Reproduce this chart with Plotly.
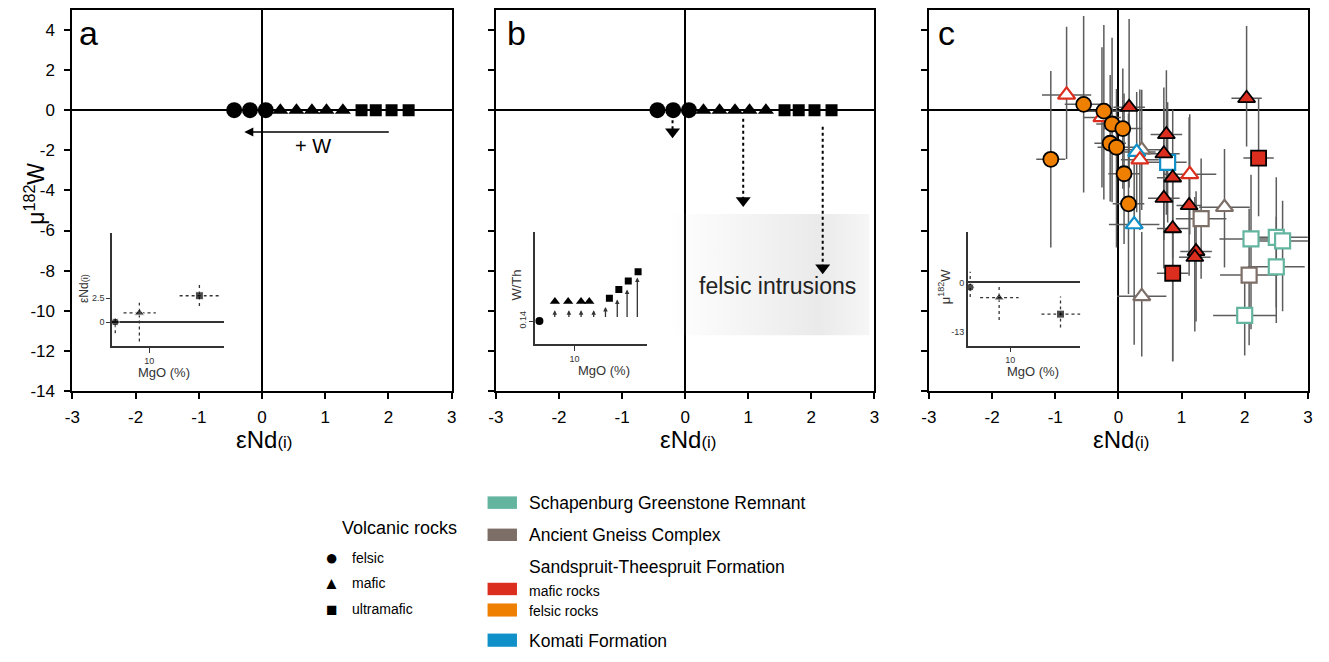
import plotly.graph_objects as go

W, H = 1329, 662


def fx(p):
    return p / W


def fy(p):
    return 1 - p / H


# ---------------- data ----------------
# panels a & b : model end-members on the mu182W = 0 line
model_felsic_end = [-0.44, -0.19, 0.06]
model_mafic_end = [0.29, 0.545, 0.79, 1.02, 1.28]
model_ultramafic_end = [1.575, 1.80, 2.05, 2.32]
model_mu = 0.0

# panel a arrow (+W)
w_arrow_from = 2.03
w_arrow_to = -0.28
w_arrow_mu = -1.09

# panel b dotted arrows
b_arrow_end = [-0.20, 0.92, 2.18]
b_arrow_start_mu = [-0.50, -0.43, -0.83]
b_arrow_head_mu = [-1.08, -4.50, -7.86]

# panel b felsic intrusion field
fi_end = [-0.27, 2.92]
fi_mu = [-5.18, -11.22]

# panel c : Sandspruit-Theespruit felsic rocks (filled circles)
stf_end = [-1.07, -0.55, -0.23, -0.10, 0.07, -0.13, -0.03, 0.09, 0.16]
stf_mu = [-2.45, 0.29, -0.05, -0.69, -0.92, -1.65, -1.85, -3.17, -4.67]
stf_xerr = [0.23, 0.30, 0.30, 0.25, 0.30, 0.25, 0.30, 0.25, 0.25]
stf_yerr_p = [4.4, 4.4, 4.3, 4.3, 3.0, 3.4, 2.9, 4.0, 4.5]
stf_yerr_m = [4.4, 4.4, 4.4, 3.9, 3.0, 2.9, 5.0, 3.5, 4.5]

# Sandspruit-Theespruit mafic rocks (filled triangles)
stm_end = [0.17, 0.76, 0.72, 0.86, 0.72, 1.12, 0.86, 1.23, 1.21, 2.03]
stm_mu = [0.15, -1.21, -2.17, -3.37, -4.39, -4.75, -5.90, -7.04, -7.33, 0.59]
stm_xerr = [0.25, 0.25, 0.25, 0.25, 0.25, 0.20, 0.25, 0.25, 0.25, 0.24]
stm_yerr_p = [4.4, 3.2, 3.3, 3.4, 4.5, 4.4, 3.0, 3.0, 3.0, 3.6]
stm_yerr_m = [4.0, 4.0, 4.3, 4.0, 3.5, 3.5, 6.6, 3.5, 3.7, 2.4]

# Sandspruit-Theespruit ultramafic (filled squares)
stu_end = [2.22, 0.86]
stu_mu = [-2.39, -8.13]
stu_xerr = [0.24, 0.25]
stu_yerr_p = [3.0, 2.6]
stu_yerr_m = [2.9, 4.4]

# Sandspruit-Theespruit mafic (open triangles)
sto_end = [-0.82, -0.26, 0.34, 1.13]
sto_mu = [0.76, -0.36, -2.47, -3.20]
sto_xerr = [0.39, 0.30, 0.30, 0.42]
sto_yerr_p = [3.4, 3.5, 3.5, 3.0]
sto_yerr_m = [3.2, 3.5, 3.5, 3.0]

# Komati Formation (open triangles / square)
kt_end = [0.29, 0.25]
kt_mu = [-2.09, -5.70]
kt_xerr = [0.30, 0.40]
kt_yerr_p = [3.0, 3.0]
kt_yerr_m = [3.0, 6.0]
ks_end = [0.78]
ks_mu = [-2.60]
ks_xerr = [0.30]
ks_yerr_p = [3.0]
ks_yerr_m = [3.0]

# Ancient Gneiss Complex (open triangles / squares)
agt_end = [0.37, 1.68, 0.37]
agt_mu = [-1.98, -4.84, -9.28]
agt_xerr = [0.30, 0.40, 0.39]
agt_yerr_p = [3.0, 2.9, 3.2]
agt_yerr_m = [3.0, 3.0, 3.0]
ags_end = [1.31, 2.07]
ags_mu = [-5.41, -8.22]
ags_xerr = [0.40, 0.46]
ags_yerr_p = [3.0, 3.3]
ags_yerr_m = [3.0, 3.5]

# Schapenburg Greenstone Remnant (open squares)
sgr_end = [2.10, 2.50, 2.60, 2.50, 2.00]
sgr_mu = [-6.42, -6.34, -6.52, -7.81, -10.23]
sgr_xerr = [0.50, 0.50, 0.45, 0.45, 0.50]
sgr_yerr_p = [3.2, 3.0, 2.0, 2.5, 1.6]
sgr_yerr_m = [4.5, 3.5, 3.5, 2.8, 2.0]

# inset a : eNd vs MgO
ia_mgo = [0.88, 7.35, 23.44]
ia_end = [0.0, 0.96, 2.75]
ia_xerr_m = [0.0, 4.25, 5.3]
ia_xerr_p = [0.0, 4.40, 5.2]
ia_yerr_p = [0.38, 1.07, 1.13]
ia_yerr_m = [1.17, 2.98, 1.07]
ia_symbols = ["circle", "triangle-up", "square"]

# inset b : W/Th vs MgO
ib_circle_mgo = [1.1]
ib_circle_wth = [0.14]
ib_tri_mgo = [5.04, 8.41, 11.69, 13.78]
ib_tri_wth = [0.18, 0.18, 0.18, 0.18]
ib_sq_mgo = [18.9, 21.3, 23.7, 26.2]
ib_sq_wth = [0.1866, 0.204, 0.2214, 0.24]
ib_arrow_mgo = [5.0, 8.6, 11.7, 14.9, 17.9, 20.9, 23.4, 26.0]
ib_arrow_base = [0.1454] * 8
ib_arrow_tip = [0.162, 0.162, 0.162, 0.162, 0.1686, 0.184, 0.204, 0.2286]

# inset c : mu182W vs MgO
ic_mgo = [0.56, 7.4, 21.9]
ic_mu = [-1.28, -4.0, -8.28]
ic_xerr_m = [0.0, 4.5, 4.5]
ic_xerr_p = [0.0, 4.6, 4.7]
ic_yerr_p = [4.03, 3.6, 4.6]
ic_yerr_m = [2.56, 5.8, 3.5]

# ---------------- styles ----------------
FONT = "Liberation Sans, Arial, sans-serif"
TEAL = "#63B5A0"
GREY = "#7D6E68"
RED = "#DC2E1E"
ORANGE = "#EE7F00"
BLUE = "#1090C8"
ERR = "#5c5c5c"

fig = go.Figure()

# ---------- panel a & b model points ----------
for xa, ya in (("x", "y"), ("x2", "y2")):
    if xa == "x2":
        # felsic intrusion field with gradient
        fig.add_trace(go.Scatter(
            x=[fi_end[0], fi_end[1], fi_end[1], fi_end[0], fi_end[0]],
            y=[fi_mu[0], fi_mu[0], fi_mu[1], fi_mu[1], fi_mu[0]],
            mode="lines", line=dict(width=0), fill="toself",
            fillgradient=dict(type="horizontal", colorscale=[
                [0, "rgba(205,205,205,0)"], [0.75, "rgba(205,205,205,0.42)"],
                [1, "rgba(205,205,205,0.18)"]]),
            xaxis=xa, yaxis=ya, showlegend=False, hoverinfo="skip"))
        # dotted arrows
        for xe, y0, y1 in zip(b_arrow_end, b_arrow_start_mu, b_arrow_head_mu):
            fig.add_trace(go.Scatter(
                x=[xe, xe], y=[y0, y1], mode="lines",
                line=dict(color="black", width=2, dash="dot"),
                xaxis=xa, yaxis=ya, showlegend=False, hoverinfo="skip"))
        fig.add_trace(go.Scatter(
            x=b_arrow_end, y=b_arrow_head_mu, mode="markers",
            marker=dict(symbol="triangle-down", size=13, color="black"),
            xaxis=xa, yaxis=ya, showlegend=False, hoverinfo="skip"))
    fig.add_trace(go.Scatter(
        x=model_felsic_end, y=[model_mu] * len(model_felsic_end), mode="markers",
        marker=dict(symbol="circle", size=16, color="black"),
        xaxis=xa, yaxis=ya, showlegend=False))
    fig.add_trace(go.Scatter(
        x=model_mafic_end, y=[model_mu] * len(model_mafic_end), mode="markers",
        marker=dict(symbol="triangle-up", size=14, color="black"),
        xaxis=xa, yaxis=ya, showlegend=False))
    fig.add_trace(go.Scatter(
        x=model_ultramafic_end, y=[model_mu] * len(model_ultramafic_end), mode="markers",
        marker=dict(symbol="square", size=12, color="black"),
        xaxis=xa, yaxis=ya, showlegend=False))

# ---------- panel c ----------
groups = [
    (sgr_end, sgr_mu, sgr_xerr, sgr_yerr_p, sgr_yerr_m, "square", "white", TEAL, 15, 2.2),
    (ags_end, ags_mu, ags_xerr, ags_yerr_p, ags_yerr_m, "square", "white", GREY, 15, 2.2),
    (agt_end, agt_mu, agt_xerr, agt_yerr_p, agt_yerr_m, "triangle-up", "white", GREY, 15, 2.2),
    (ks_end, ks_mu, ks_xerr, ks_yerr_p, ks_yerr_m, "square", "white", BLUE, 15, 2.2),
    (kt_end, kt_mu, kt_xerr, kt_yerr_p, kt_yerr_m, "triangle-up", "white", BLUE, 15, 2.2),
    (sto_end, sto_mu, sto_xerr, sto_yerr_p, sto_yerr_m, "triangle-up", "white", RED, 15, 2.2),
    (stf_end, stf_mu, stf_xerr, stf_yerr_p, stf_yerr_m, "circle", ORANGE, "black", 15, 1.8),
    (stu_end, stu_mu, stu_xerr, stu_yerr_p, stu_yerr_m, "square", RED, "black", 15, 1.8),
    (stm_end, stm_mu, stm_xerr, stm_yerr_p, stm_yerr_m, "triangle-up", RED, "black", 15, 1.8),
]
for gx, gy, ex, eyp, eym, *_ in groups:
    fig.add_trace(go.Scatter(
        x=gx, y=gy, mode="markers", marker=dict(size=2, opacity=0),
        error_x=dict(type="data", array=ex, color=ERR, thickness=1.5, width=0),
        error_y=dict(type="data", array=eyp, arrayminus=eym, symmetric=False,
                     color=ERR, thickness=1.5, width=0),
        xaxis="x3", yaxis="y3", showlegend=False, hoverinfo="skip"))
for gx, gy, ex, eyp, eym, sym, fill, edge, size, lw in groups:
    fig.add_trace(go.Scatter(
        x=gx, y=gy, mode="markers",
        marker=dict(symbol=sym, size=size, color=fill, line=dict(color=edge, width=lw)),
        xaxis="x3", yaxis="y3", showlegend=False))


# ---------- insets ----------
def dotted_cross(xs, ys, xm, xp, yp, ym):
    lx, ly = [], []
    for x0, y0, a, b, c, d in zip(xs, ys, xm, xp, yp, ym):
        if a or b:
            lx += [x0 - a, x0 + b, None]
            ly += [y0, y0, None]
        if c or d:
            lx += [x0, x0, None]
            ly += [y0 - d, y0 + c, None]
    return lx, ly


lx, ly = dotted_cross(ia_mgo, ia_end, ia_xerr_m, ia_xerr_p, ia_yerr_p, ia_yerr_m)
fig.add_trace(go.Scatter(x=lx, y=ly, mode="lines",
                         line=dict(color="#333", width=1.3, dash="dot"),
                         xaxis="x4", yaxis="y4", showlegend=False, hoverinfo="skip"))
fig.add_trace(go.Scatter(x=ia_mgo, y=ia_end, mode="markers",
                         marker=dict(symbol=ia_symbols, size=[8, 9, 8], color="black"),
                         xaxis="x4", yaxis="y4", showlegend=False))

fig.add_trace(go.Scatter(x=ib_circle_mgo, y=ib_circle_wth, mode="markers",
                         marker=dict(symbol="circle", size=8, color="black"),
                         xaxis="x5", yaxis="y5", showlegend=False, cliponaxis=False))
fig.add_trace(go.Scatter(x=ib_tri_mgo, y=ib_tri_wth, mode="markers",
                         marker=dict(symbol="triangle-up", size=9, color="black"),
                         xaxis="x5", yaxis="y5", showlegend=False))
fig.add_trace(go.Scatter(x=ib_sq_mgo, y=ib_sq_wth, mode="markers",
                         marker=dict(symbol="square", size=7, color="black"),
                         xaxis="x5", yaxis="y5", showlegend=False))

lx, ly = dotted_cross(ic_mgo, ic_mu, ic_xerr_m, ic_xerr_p, ic_yerr_p, ic_yerr_m)
fig.add_trace(go.Scatter(x=lx, y=ly, mode="lines",
                         line=dict(color="#333", width=1.3, dash="dot"),
                         xaxis="x6", yaxis="y6", showlegend=False, hoverinfo="skip"))
fig.add_trace(go.Scatter(x=ic_mgo, y=ic_mu, mode="markers",
                         marker=dict(symbol=ia_symbols, size=[8, 9, 8], color="black"),
                         xaxis="x6", yaxis="y6", showlegend=False, cliponaxis=False))

# ---------- axes ----------
X_DOM = [(65, 448), (492.7, 875), (930, 1312.7)]
yt = list(range(-14, 5, 2))
main_common = dict(showline=True, linewidth=2, linecolor="black", mirror=True,
                   ticks="outside", ticklen=6, tickwidth=1.6, tickcolor="black",
                   showgrid=False, zeroline=True, zerolinecolor="black", zerolinewidth=2,
                   tickfont=dict(size=17, color="black", family=FONT))
layout_axes = {}
for i, (l, r) in enumerate(X_DOM):
    sfx = "" if i == 0 else str(i + 1)
    layout_axes["xaxis" + sfx] = dict(
        main_common, domain=[fx(l), fx(r)], range=[-3, 3], anchor="y" + sfx,
        tickvals=list(range(-3, 4)), ticktext=[str(v) for v in range(-3, 4)],
        ticklabelstandoff=4)
    layout_axes["yaxis" + sfx] = dict(
        main_common, domain=[fy(397), fy(10)], range=[-14, 5], anchor="x" + sfx,
        tickvals=yt, ticktext=[str(v) for v in yt], showticklabels=(i == 0),
        ticklabelstandoff=6)

inset_x = dict(showline=True, linewidth=1.5, linecolor="#333", mirror=False,
               ticks="outside", ticklen=5, tickwidth=1.2, tickcolor="#333",
               showgrid=False, zeroline=False, tickvals=[10], ticktext=["10"],
               tickfont=dict(size=9, color="#333", family=FONT))
inset_y = dict(showline=True, linewidth=1.5, linecolor="#333", mirror=False,
               ticks="outside", ticklen=4, tickwidth=1.2, tickcolor="#333",
               showgrid=False, zerolinecolor="#333", zerolinewidth=1.5,
               tickfont=dict(size=9, color="#333", family=FONT))
layout_axes["xaxis4"] = dict(inset_x, domain=[fx(105), fx(218)], range=[0, 30], anchor="y4")
layout_axes["yaxis4"] = dict(inset_y, domain=[fy(351.7), fy(237)], range=[-2.54, 9.26],
                             anchor="x4", zeroline=True, tickvals=[0, 2.5], ticktext=["0", "2.5"])
layout_axes["xaxis5"] = dict(inset_x, domain=[fx(532.3), fx(645.7)], range=[0, 28.56], anchor="y5")
layout_axes["yaxis5"] = dict(inset_y, domain=[fy(349.3), fy(236)], range=[0.0934, 0.32],
                             anchor="x5", zeroline=False, tickvals=[0.14], ticktext=["0.14"],
                             tickangle=-90)
layout_axes["xaxis6"] = dict(inset_x, domain=[fx(969.3), fx(1083)], range=[0, 26.6], anchor="y6")
layout_axes["yaxis6"] = dict(inset_y, domain=[fy(351), fy(236)], range=[-16.5, 13.0],
                             anchor="x6", zeroline=True, ticks="", tickvals=[0, -13],
                             ticktext=["0", "-13"])

# ---------- annotations ----------
ann = []


def txt(x, y, text, size, xanchor="center", yanchor="middle", angle=0, color="black",
        xref="paper", yref="paper"):
    ann.append(dict(x=x, y=y, xref=xref, yref=yref, text=text, showarrow=False,
                    xanchor=xanchor, yanchor=yanchor, textangle=angle,
                    font=dict(size=size, color=color, family=FONT)))


for letter, lx0 in (("a", 70), ("b", 502), ("c", 937)):
    txt(fx(lx0), fy(34), letter, 34, xanchor="left")
for l, r in X_DOM:
    txt(fx((l + r) / 2 + 3), fy(446), "εNd<span style='font-size:17px'>(i)</span>", 24)
txt(fx(27), fy(197), "μ<sup>182</sup>W", 23, angle=-90)

# panel a arrow
ann.append(dict(x=w_arrow_to, y=w_arrow_mu, ax=w_arrow_from, ay=w_arrow_mu,
                xref="x", yref="y", axref="x", ayref="y", text="", showarrow=True,
                arrowhead=2, arrowsize=1.2, arrowwidth=1.5, arrowcolor="black",
                font=dict(size=10)))
txt(0.80, -1.78, "+ W", 20, xref="x", yref="y")
txt(1.46, -8.77, "felsic intrusions", 23, xref="x2", yref="y2", color="#222")

# insets text
txt(fx(76.7), fy(292.5), "εNd<span style='font-size:9px'>(i)</span>", 12, angle=-90, color="#333")
txt(fx(514), fy(289), "W/Th", 13, angle=-90, color="#333")
txt(fx(945), fy(291), "μ<sup>182</sup>W", 13, angle=-90, color="#333")
for cx, cy in ((158, 378), (601.7, 376.5), (1035, 377)):
    txt(fx(cx), fy(cy), "MgO (%)", 13, color="#333")

# inset b arrows
for xm, y0, y1 in zip(ib_arrow_mgo, ib_arrow_base, ib_arrow_tip):
    ann.append(dict(x=xm, y=y1, ax=xm, ay=y0, xref="x5", yref="y5", axref="x5", ayref="y5",
                    text="", showarrow=True, arrowhead=2, arrowsize=0.7, arrowwidth=1.3,
                    arrowcolor="#333", font=dict(size=10)))

# legend
txt(fx(335), fy(536.5), "Volcanic rocks", 18, xanchor="left")
for sym, ssz, lab, yy in (("●", 22, "felsic", 566.5), ("▲", 17, "mafic", 592),
                          ("■", 19, "ultramafic", 618.5)):
    txt(fx(326.7), fy(yy), sym, ssz)
    txt(fx(345), fy(yy), lab, 14, xanchor="left")
shapes = []
for col, y0, y1 in ((TEAL, 504, 516.7), (GREY, 536.7, 549.3), (RED, 591.7, 604.3),
                    (ORANGE, 612.7, 626), (BLUE, 643.3, 656.7)):
    shapes.append(dict(type="rect", xref="paper", yref="paper", x0=fx(484.3), x1=fx(514),
                       y0=fy(y1), y1=fy(y0), fillcolor=col, line=dict(width=0)))
for lab, yy, sz in (("Schapenburg Greenstone Remnant", 510.5, 17.5),
                    ("Ancient Gneiss Complex", 543, 17.5),
                    ("Sandspruit-Theespruit Formation", 575.5, 17.5),
                    ("mafic rocks", 600, 14), ("felsic rocks", 620.5, 14),
                    ("Komati Formation", 651, 17.5)):
    txt(fx(524), fy(yy), lab, sz, xanchor="left")

fig.update_layout(
    width=W, height=H, margin=dict(l=0, r=0, t=0, b=0),
    paper_bgcolor="white", plot_bgcolor="rgba(0,0,0,0)",
    font=dict(family=FONT, color="black"),
    showlegend=False, annotations=ann, shapes=shapes, **layout_axes)

fig.write_html("out.html")
